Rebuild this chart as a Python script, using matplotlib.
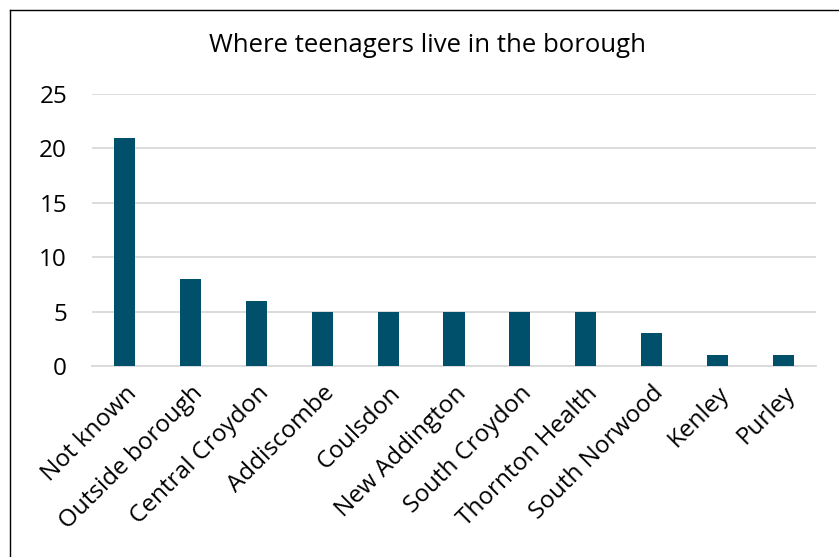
from matplotlib import pyplot as plt
from matplotlib.lines import Line2D

# Number of teenagers per area
areas = [
    'Not known',
    'Outside borough',
    'Central Croydon',
    'Addiscombe',
    'Coulsdon',
    'New Addington',
    'South Croydon',
    'Thornton Health',
    'South Norwood',
    'Kenley',
    'Purley',
]
counts = [21, 8, 6, 5, 5, 5, 5, 5, 3, 1, 1]
y_ticks = [0, 5, 10, 15, 20, 25]

plt.rcParams['font.family'] = ['Open Sans', 'DejaVu Sans']

fig = plt.figure(figsize=[8.39, 5.57], dpi=100)
ax = fig.add_axes([0.1097, 0.3429, 0.8629, 0.4883])

ax.bar(range(len(areas)), counts, width=0.32, color='#01506B', zorder=3)

ax.set_xlim(-0.5, len(areas) - 0.5)
ax.set_ylim(0, 25)
ax.set_yticks(y_ticks)
ax.set_xticks(range(len(areas)))
ax.set_xticklabels(areas, rotation=45, ha='right', rotation_mode='anchor')
ax.tick_params(axis='both', length=0, labelsize=17.5, colors='black')
ax.tick_params(axis='x', pad=11)
ax.tick_params(axis='y', pad=18)

ax.grid(axis='y', color='#D9D9D9', linewidth=1.3, zorder=0)
for side in ['top', 'right', 'left']:
    ax.spines[side].set_visible(False)
ax.spines['bottom'].set_color('#D9D9D9')
ax.spines['bottom'].set_linewidth(1.3)

fig.text(0.509, 0.918, 'Where teenagers live in the borough', ha='center', va='center', fontsize=18.5)

# frame lines at top and left edge
fig.add_artist(Line2D([10 / 839, 1], [1 - 10 / 557] * 2, color='black', linewidth=1))
fig.add_artist(Line2D([10 / 839] * 2, [0, 1 - 10 / 557], color='black', linewidth=1))

plt.savefig('out.png')
